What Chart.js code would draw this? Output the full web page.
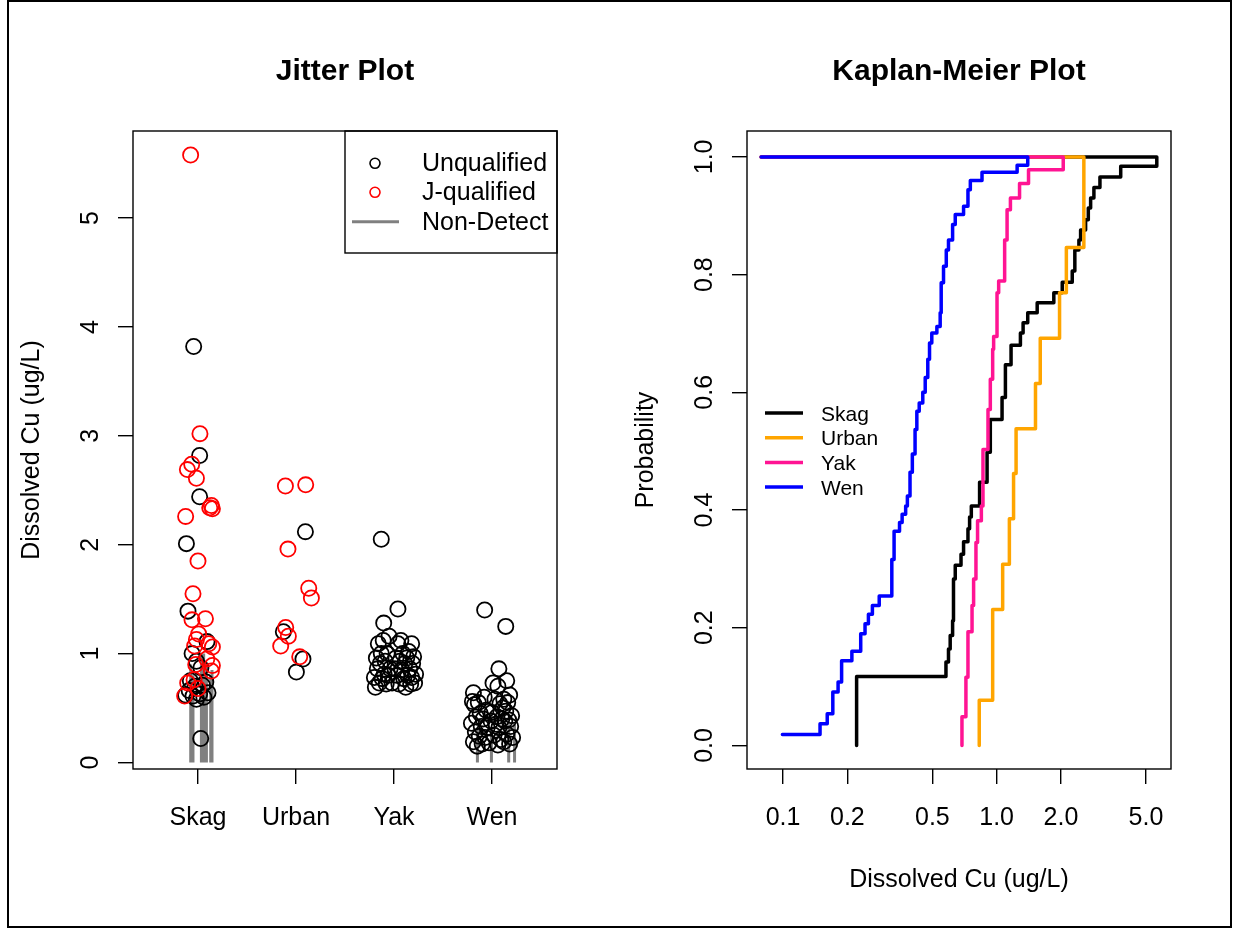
<!DOCTYPE html>
<html lang="en">
  <head>
    <meta charset="UTF-8" />
    <title>Jitter Plot / Kaplan-Meier Plot</title>
    <style>
      * {
        box-sizing: border-box;
        margin: 0;
        padding: 0;
      }
      html,
      body {
        width: 1237px;
        height: 929px;
        background: #fff;
        overflow: hidden;
      }
      .frame {
        position: absolute;
        left: 7px;
        top: 0;
        width: 1225px;
        height: 928px;
        border: 2px solid #000;
      }
      canvas {
        position: absolute;
        top: 0;
      }
      #jitterChart {
        left: 0;
      }
      #kmChart {
        left: 618px;
      }
    </style>
  </head>
  <body>
    <div class="frame"></div>
    <canvas id="jitterChart" width="618" height="929"></canvas>
    <canvas id="kmChart" width="619" height="929"></canvas>

    <script src="https://cdn.jsdelivr.net/npm/chart.js"></script>
    <script>
      const FONT = "'Liberation Sans', Arial, Helvetica, sans-serif";
      const GRAY = "#808080";

      // ---- categories / ticks
      const sites = ["Skag", "Urban", "Yak", "Wen"];
      const jitterYTicks = [0, 1, 2, 3, 4, 5];
      const kmXTicks = [0.1, 0.2, 0.5, 1, 2, 5];
      const kmYTicks = [0, 0.2, 0.4, 0.6, 0.8, 1];

      // ---- jitter plot data: value (ug/L) + horizontal jitter around the site
      const skagUnq = [3.82, 2.82, 2.44, 2.01, 1.39, 1.11, 1.0, 0.93, 0.87, 0.75, 0.74, 0.71, 0.7, 0.66, 0.64, 0.63, 0.62, 0.61, 0.6, 0.58, 0.22];
      const skagUnqJit = [-0.044, 0.017, 0.017, -0.118, -0.102, 0.092, -0.06, -0.016, 0.03, -0.078, 0.08, 0.045, -0.03, -0.09, 0.102, 0.017, -0.126, -0.051, 0.06, -0.016, 0.028];
      const skagJ = [5.58, 3.02, 2.74, 2.69, 2.61, 2.36, 2.34, 2.33, 2.26, 1.85, 1.55, 1.32, 1.31, 1.18, 1.13, 1.09, 1.07, 1.06, 0.95, 0.9, 0.89, 0.84, 0.76, 0.73, 0.68, 0.61];
      const skagJJit = [-0.075, 0.02, -0.064, -0.108, -0.016, 0.137, 0.12, 0.147, -0.126, 0.0, -0.051, 0.076, -0.061, 0.007, -0.016, 0.11, -0.034, 0.147, 0.09, -0.023, 0.147, 0.137, -0.04, -0.105, 0.0, -0.136];
      const skagND = [0.9, 0.8, 1.0, 1.0, 0.9, 0.8, 0.85];
      const skagNDJit = [-0.074, -0.051, 0.035, 0.058, 0.086, 0.13, 0.143];

      const urbanUnq = [2.12, 1.2, 0.95, 0.83];
      const urbanUnqJit = [0.096, -0.129, 0.071, 0.004];
      const urbanJ = [2.55, 2.54, 1.96, 1.6, 1.51, 1.24, 1.16, 1.07, 0.97];
      const urbanJJit = [0.099, -0.108, -0.082, 0.13, 0.157, -0.105, -0.078, -0.156, 0.038];

      const yakUnq = [0.69, 0.69, 0.72, 0.72, 0.72, 0.73, 0.73, 0.73, 0.77, 0.77, 0.78, 0.78, 0.8, 0.8, 0.8, 0.81, 0.81, 0.85, 0.86, 0.86, 0.86, 0.86, 0.91, 0.91, 0.91, 0.93, 0.93, 0.96, 0.96, 0.96, 0.97, 1.0, 1.0, 1.0, 1.02, 1.09, 1.09, 1.09, 1.12, 1.12, 1.16, 1.28, 1.41, 2.05];
      const yakUnqJit = [-0.19, 0.12, -0.08, 0.17, 0.05, -0.15, 0.21, -0.02, 0.1, -0.12, 0.18, -0.2, 0.03, 0.14, -0.06, 0.22, -0.1, 0.08, -0.17, 0.01, 0.16, -0.04, 0.11, -0.14, 0.19, -0.09, 0.06, 0.13, -0.18, 0.02, 0.2, -0.07, 0.09, -0.13, 0.15, -0.16, 0.04, 0.18, -0.11, 0.07, -0.05, -0.105, 0.04, -0.13];

      const wenUnq = [0.15, 0.16, 0.17, 0.17, 0.18, 0.19, 0.19, 0.21, 0.23, 0.23, 0.24, 0.25, 0.26, 0.28, 0.32, 0.32, 0.33, 0.33, 0.35, 0.36, 0.38, 0.38, 0.39, 0.4, 0.4, 0.42, 0.42, 0.43, 0.45, 0.46, 0.47, 0.48, 0.5, 0.53, 0.54, 0.55, 0.55, 0.56, 0.58, 0.58, 0.6, 0.62, 0.64, 0.7, 0.73, 0.75, 0.86, 1.25, 1.4];
      const wenUnqJit = [-0.15, 0.06, -0.1, 0.18, -0.03, 0.12, -0.19, 0.09, -0.07, 0.21, -0.13, 0.02, 0.15, -0.17, 0.07, -0.05, 0.19, -0.11, 0.04, -0.21, 0.13, -0.01, 0.17, -0.09, 0.1, -0.16, 0.05, 0.2, -0.12, 0.0, 0.14, -0.06, 0.11, -0.18, 0.08, -0.14, 0.16, -0.2, 0.03, 0.12, -0.08, 0.18, -0.19, 0.06, 0.01, 0.15, 0.07, 0.14, -0.075];
      const wenND = [0.3, 0.3, 0.35, 0.35];
      const wenNDJit = [-0.149, -0.006, 0.17, 0.23];

      // ---- Kaplan-Meier steps: concentration where the curve jumps, probability after the jump
      const kmStart = 0.079; // left end of the p = 1 line
      const kmSkagX = [0.221, 0.221, 0.579, 0.595, 0.606, 0.622, 0.628, 0.64, 0.681, 0.7, 0.734, 0.747, 0.761, 0.832, 0.902, 0.934, 1.06, 1.099, 1.168, 1.292, 1.33, 1.398, 1.548, 1.852, 2.028, 2.259, 2.323, 2.427, 2.472, 2.609, 2.686, 2.754, 2.853, 3.045, 3.809, 5.62];
      const kmSkagP = [0, 0.117, 0.142, 0.164, 0.187, 0.212, 0.283, 0.306, 0.325, 0.346, 0.368, 0.388, 0.407, 0.447, 0.498, 0.554, 0.591, 0.647, 0.68, 0.701, 0.718, 0.735, 0.752, 0.769, 0.787, 0.806, 0.842, 0.859, 0.876, 0.893, 0.913, 0.93, 0.948, 0.966, 0.984, 1.0];
      const kmUrbanX = [0.829, 0.829, 0.958, 1.067, 1.147, 1.2, 1.233, 1.52, 1.6, 1.97, 2.12, 2.56];
      const kmUrbanP = [0, 0.077, 0.231, 0.308, 0.385, 0.462, 0.538, 0.615, 0.692, 0.769, 0.846, 1.0];
      const kmYakX = [0.688, 0.688, 0.718, 0.734, 0.767, 0.78, 0.8, 0.814, 0.848, 0.863, 0.911, 0.934, 0.958, 0.968, 1.004, 1.022, 1.09, 1.119, 1.16, 1.28, 1.41, 2.05];
      const kmYakP = [0, 0.0486, 0.116, 0.193, 0.238, 0.283, 0.345, 0.382, 0.407, 0.503, 0.571, 0.622, 0.673, 0.695, 0.769, 0.789, 0.859, 0.91, 0.93, 0.955, 0.978, 1.0];
      const kmWenX = [0.0993, 0.149, 0.161, 0.171, 0.181, 0.188, 0.21, 0.231, 0.242, 0.251, 0.262, 0.282, 0.323, 0.331, 0.351, 0.361, 0.375, 0.382, 0.393, 0.403, 0.415, 0.423, 0.434, 0.451, 0.463, 0.476, 0.485, 0.497, 0.525, 0.544, 0.55, 0.564, 0.581, 0.595, 0.622, 0.64, 0.7, 0.734, 0.753, 0.854, 1.247, 1.398];
      const kmWenP = [0.0186, 0.037, 0.054, 0.091, 0.108, 0.144, 0.16, 0.19, 0.207, 0.223, 0.238, 0.254, 0.316, 0.364, 0.379, 0.393, 0.407, 0.424, 0.464, 0.495, 0.537, 0.568, 0.582, 0.6, 0.625, 0.656, 0.684, 0.701, 0.712, 0.735, 0.786, 0.814, 0.842, 0.859, 0.885, 0.902, 0.916, 0.944, 0.96, 0.974, 0.986, 1.0];

      const kmColors = ["#000000", "#FFA500", "#FF1493", "#0000FF"];

      // ---- helpers
      function jitterPoints(site, vals, jit) {
        const x0 = sites.indexOf(site) + 1;
        return vals.map((v, i) => ({ x: x0 + jit[i], y: v }));
      }
      function ndSegments(site, dl, jit) {
        const x0 = sites.indexOf(site) + 1;
        const out = [];
        dl.forEach((v, i) => {
          out.push({ x: x0 + jit[i], y: 0 }, { x: x0 + jit[i], y: v }, { x: x0 + jit[i], y: null });
        });
        return out;
      }
      function kmSteps(xs, ps) {
        const pts = xs.map((x, i) => ({ x: x, y: ps[i] }));
        pts.push({ x: kmStart, y: 1 });
        return pts;
      }

      // R-like box, outward ticks, rotated y labels and titles
      const rAxes = {
        id: "rAxes",
        afterDraw(chart, args, o) {
          const { ctx, chartArea: a, scales } = chart;
          ctx.save();
          ctx.strokeStyle = "#000";
          ctx.lineWidth = 1.4;
          ctx.strokeRect(a.left, a.top, a.right - a.left, a.bottom - a.top);
          ctx.fillStyle = "#000";
          ctx.font = "25px " + FONT;
          ctx.textAlign = "center";
          ctx.textBaseline = "alphabetic";
          scales.x.ticks.forEach((t) => {
            ctx.fillText(o.xLabel(t.value), scales.x.getPixelForValue(t.value), a.bottom + 56);
          });
          scales.y.ticks.forEach((t) => {
            ctx.save();
            ctx.translate(a.left - 35, scales.y.getPixelForValue(t.value));
            ctx.rotate(-Math.PI / 2);
            ctx.fillText(o.yLabel(t.value), 0, 0);
            ctx.restore();
          });
          if (o.xTitle) {
            ctx.fillText(o.xTitle, (a.left + a.right) / 2, a.bottom + 118);
          }
          ctx.save();
          ctx.translate(a.left - 94, (a.top + a.bottom) / 2);
          ctx.rotate(-Math.PI / 2);
          ctx.fillText(o.yTitle, 0, 0);
          ctx.restore();
          ctx.font = "bold 30px " + FONT;
          ctx.fillText(o.title, (a.left + a.right) / 2, 80);
          ctx.restore();
        },
      };

      const jitterLegend = {
        id: "jitterLegend",
        afterDraw(chart) {
          const { ctx, chartArea: a } = chart;
          const left = a.right - 212;
          const top = a.top;
          ctx.save();
          ctx.strokeStyle = "#000";
          ctx.lineWidth = 1.4;
          ctx.strokeRect(left, top, 212, 122);
          ctx.font = "25px " + FONT;
          ctx.fillStyle = "#000";
          ctx.textAlign = "left";
          ctx.textBaseline = "alphabetic";
          const rows = [top + 32.3, top + 61.3, top + 90.7];
          ctx.lineWidth = 1.6;
          ctx.strokeStyle = "#000";
          ctx.beginPath();
          ctx.arc(left + 30, rows[0], 5, 0, 2 * Math.PI);
          ctx.stroke();
          ctx.strokeStyle = "#FF0000";
          ctx.beginPath();
          ctx.arc(left + 30, rows[1], 5, 0, 2 * Math.PI);
          ctx.stroke();
          ctx.strokeStyle = GRAY;
          ctx.lineWidth = 3;
          ctx.beginPath();
          ctx.moveTo(left + 7, rows[2]);
          ctx.lineTo(left + 54, rows[2]);
          ctx.stroke();
          ["Unqualified", "J-qualified", "Non-Detect"].forEach((s, i) => {
            ctx.fillText(s, left + 77, rows[i] + 8);
          });
          ctx.restore();
        },
      };

      const kmLegend = {
        id: "kmLegend",
        afterDraw(chart) {
          const { ctx, chartArea: a } = chart;
          ctx.save();
          ctx.font = "21px " + FONT;
          ctx.fillStyle = "#000";
          ctx.textAlign = "left";
          ctx.textBaseline = "alphabetic";
          ctx.lineWidth = 3.5;
          sites.forEach((s, i) => {
            const y = a.top + 282 + i * 24.7;
            ctx.strokeStyle = kmColors[i];
            ctx.beginPath();
            ctx.moveTo(a.left + 18, y);
            ctx.lineTo(a.left + 56, y);
            ctx.stroke();
            ctx.fillText(s, a.left + 74, y + 7.5);
          });
          ctx.restore();
        },
      };

      function axisOpts(extra) {
        return Object.assign(
          {
            bounds: "data",
            ticks: { display: false },
            grid: { drawOnChartArea: false, drawTicks: true, tickLength: 15, color: "#000", lineWidth: 1.4 },
            border: { display: false },
          },
          extra
        );
      }

      // ---- left: jitter plot
      new Chart(document.getElementById("jitterChart"), {
        type: "scatter",
        data: {
          datasets: [
            {
              label: "Non-Detect",
              data: ndSegments("Skag", skagND, skagNDJit).concat(ndSegments("Wen", wenND, wenNDJit)),
              showLine: true,
              spanGaps: false,
              borderColor: GRAY,
              borderWidth: 3,
              pointRadius: 0,
              order: 3,
            },
            {
              label: "Unqualified",
              data: [].concat(
                jitterPoints("Skag", skagUnq, skagUnqJit),
                jitterPoints("Urban", urbanUnq, urbanUnqJit),
                jitterPoints("Yak", yakUnq, yakUnqJit),
                jitterPoints("Wen", wenUnq, wenUnqJit)
              ),
              borderColor: "#000000",
              backgroundColor: "rgba(0,0,0,0)",
              pointRadius: 7.6,
              borderWidth: 1.8,
              order: 2,
            },
            {
              label: "J-qualified",
              data: [].concat(jitterPoints("Skag", skagJ, skagJJit), jitterPoints("Urban", urbanJ, urbanJJit)),
              borderColor: "#FF0000",
              backgroundColor: "rgba(0,0,0,0)",
              pointRadius: 7.6,
              borderWidth: 1.8,
              order: 1,
            },
          ],
        },
        options: {
          responsive: false,
          animation: false,
          events: [],
          layout: { padding: { top: 131, right: 61, bottom: 0, left: 0 } },
          scales: {
            x: axisOpts({
              type: "linear",
              min: 0.337,
              max: 4.663,
              afterBuildTicks: (s) => {
                s.ticks = sites.map((n, i) => ({ value: i + 1 }));
              },
              afterFit: (s) => {
                s.height = 160;
              },
            }),
            y: axisOpts({
              type: "linear",
              min: -0.06,
              max: 5.8,
              afterBuildTicks: (s) => {
                s.ticks = jitterYTicks.map((v) => ({ value: v }));
              },
              afterFit: (s) => {
                s.width = 133;
              },
            }),
          },
          plugins: {
            legend: { display: false },
            tooltip: { enabled: false },
            rAxes: {
              title: "Jitter Plot",
              yTitle: "Dissolved Cu (ug/L)",
              xTitle: "",
              xLabel: (v) => sites[v - 1],
              yLabel: (v) => String(v),
            },
          },
        },
        plugins: [rAxes, jitterLegend],
      });

      // ---- right: Kaplan-Meier plot
      const kmSeries = [
        [kmSkagX, kmSkagP],
        [kmUrbanX, kmUrbanP],
        [kmYakX, kmYakP],
        [kmWenX, kmWenP],
      ];
      new Chart(document.getElementById("kmChart"), {
        type: "line",
        data: {
          datasets: kmSeries.map((s, i) => ({
            label: sites[i],
            data: kmSteps(s[0], s[1]),
            stepped: "before",
            borderColor: kmColors[i],
            borderWidth: 3.5,
            borderCapStyle: "round",
            borderJoinStyle: "round",
            pointRadius: 0,
            fill: false,
            order: 4 - i,
          })),
        },
        options: {
          responsive: false,
          animation: false,
          events: [],
          layout: { padding: { top: 131, right: 66, bottom: 0, left: 0 } },
          scales: {
            x: axisOpts({
              type: "logarithmic",
              min: 0.0678,
              max: 6.55,
              afterBuildTicks: (s) => {
                s.ticks = kmXTicks.map((v) => ({ value: v }));
              },
              afterFit: (s) => {
                s.height = 160;
              },
            }),
            y: axisOpts({
              type: "linear",
              min: -0.04,
              max: 1.044,
              afterBuildTicks: (s) => {
                s.ticks = kmYTicks.map((v) => ({ value: v }));
              },
              afterFit: (s) => {
                s.width = 129;
              },
            }),
          },
          plugins: {
            legend: { display: false },
            tooltip: { enabled: false },
            rAxes: {
              title: "Kaplan-Meier Plot",
              yTitle: "Probability",
              xTitle: "Dissolved Cu (ug/L)",
              xLabel: (v) => v.toFixed(1),
              yLabel: (v) => v.toFixed(1),
            },
          },
        },
        plugins: [rAxes, kmLegend],
      });
    </script>
  </body>
</html>
